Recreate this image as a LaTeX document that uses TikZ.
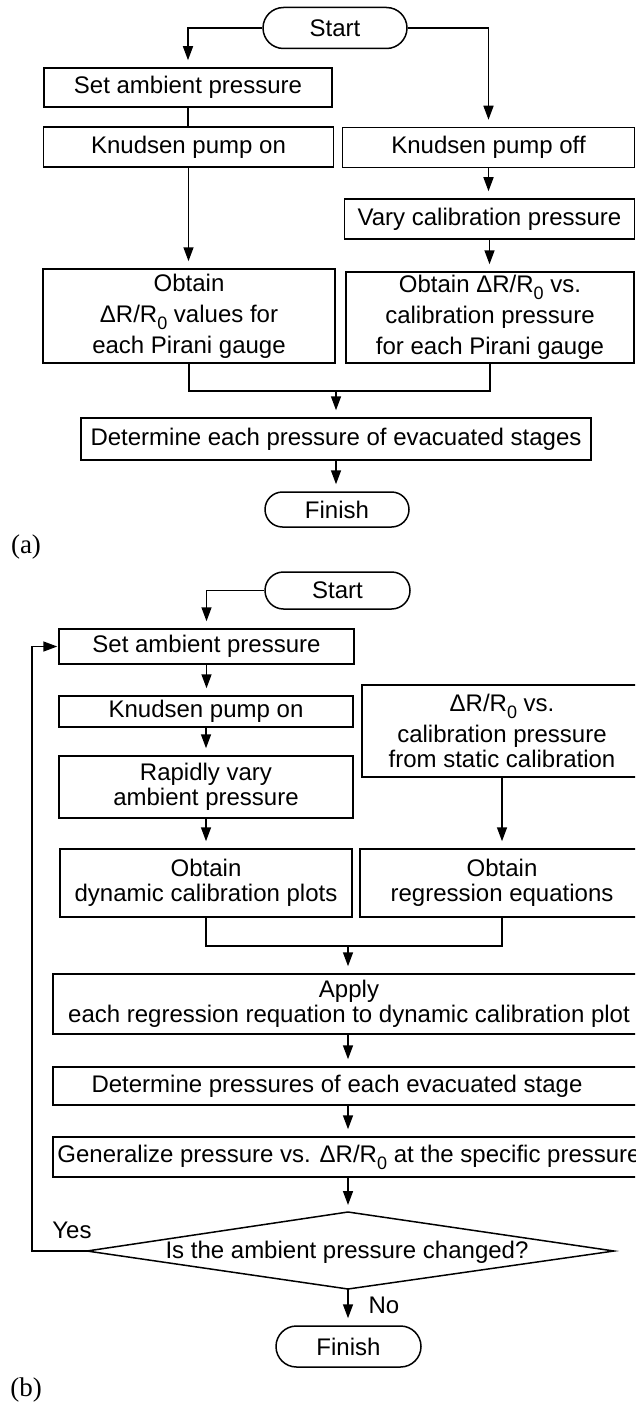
\documentclass[tikz,border=0pt]{standalone}
\usepackage{fontspec}
\setmainfont{Liberation Sans}
\newfontfamily\labserif{Liberation Serif}
\usetikzlibrary{arrows.meta,shapes.misc}
\newcommand{\dRR}{ΔR/R\raisebox{-7pt}{\fontsize{18}{18}\selectfont 0}}
\begin{document}
\begin{tikzpicture}[x=1pt,y=-1pt,line width=1.5pt,
  font=\fontsize{24}{29}\selectfont,
  box/.style={draw,rectangle,inner sep=0pt,align=center},
  terminal/.style={draw,rounded rectangle,inner sep=0pt},
  arr/.style={-{Triangle[length=14pt,width=10pt]},shorten >=7pt},
  spa/.style={font=\fontsize{24}{31}\selectfont},
  spb/.style={font=\fontsize{24}{25}\selectfont},
  lab/.style={font=\labserif\fontsize{27}{27}\selectfont},
  plain/.style={inner sep=0pt}]
\useasboundingbox (0,0) rectangle (635,1407);
\clip (0,0) rectangle (635,1407);

% ---------- (a) ----------
\node[terminal,minimum width=144pt,minimum height=41pt] (startA) at (335,28) {Start};
\node[box,minimum width=288pt,minimum height=39pt] (setA) at (188,87.5) {Set ambient pressure};
\node[box,minimum width=290pt,minimum height=40pt] (onA) at (188.5,147) {Knudsen pump on};
\node[box,minimum width=292pt,minimum height=40pt] (offA) at (488.5,147.5) {Knudsen pump off};
\node[box,minimum width=290pt,minimum height=40pt] (varyA) at (489.5,219) {Vary calibration pressure};
\node[box,spa,minimum width=292pt,minimum height=94pt] (obtL) at (189,316) {Obtain\\\dRR{} values for\\each Pirani gauge};
\node[box,spa,minimum width=288pt,minimum height=91pt] (obtR) at (490,317.5) {Obtain \dRR{} vs.\\calibration pressure\\for each Pirani gauge};
\node[box,minimum width=510pt,minimum height=42pt] (detA) at (336,439) {Determine each pressure of evacuated stages};
\node[terminal,minimum width=144pt,minimum height=35pt] (finA) at (337,509.5) {Finish};
\node[plain,lab] (labA) at (26,547) {(a)};

\draw[arr] (startA.west) -| (setA.north);
\draw[arr] (startA.east) -| (offA.north);
\draw (setA.south) -- (setA.south |- onA.north);
\draw[arr] (onA.south) -- (onA.south |- obtL.north);
\draw[arr] (offA.south) -- (offA.south |- varyA.north);
\draw[arr] (varyA.south) -- (varyA.south |- obtR.north);
\coordinate (mA) at (336,391);
\draw (obtL.south) |- (mA) -| (obtR.south);
\draw[arr] (mA) -- (detA.north);
\draw[arr] (detA.south) -- (detA.south |- finA.north);

% ---------- (b) ----------
\node[terminal,minimum width=145pt,minimum height=37pt] (startB) at (337.5,590.5) {Start};
\node[box,minimum width=295pt,minimum height=35pt] (setB) at (206.5,646.5) {Set ambient pressure};
\node[box,minimum width=294pt,minimum height=31pt] (onB) at (206,711.5) {Knudsen pump on};
\node[box,spb,minimum width=294pt,minimum height=62pt] (rapB) at (206,787) {Rapidly vary\\ambient pressure};
\node[box,spb,minimum width=280pt,minimum height=92pt] (dRB) at (502,731) {\dRR{} vs.\\[6pt]calibration pressure\\from static calibration};
\node[box,spb,minimum width=292pt,minimum height=68pt] (obtDB) at (206,883) {Obtain\\dynamic calibration plots};
\node[box,spb,minimum width=284pt,minimum height=68pt] (obtRB) at (502,883) {Obtain\\regression equations};
\coordinate (mB) at (348,946);
\node[box,spb,minimum width=592pt,minimum height=60pt] (applyB) at (349,1004) {Apply\\each regression requation to dynamic calibration plot};
\node[box,minimum width=592pt,minimum height=38pt] (detB) at (349,1086) {Determine pressures of each evacuated stage\hspace*{24pt}};
\node[box,minimum width=592pt,minimum height=40pt] (genB) at (349,1157) {Generalize pressure vs. \dRR{} at the specific pressure};
\coordinate (dT) at (348,1212);
\coordinate (dR) at (614,1251);
\coordinate (dB) at (348,1289);
\coordinate (dL) at (87,1251);
\draw (dT) -- (dR) -- (dB) -- (dL) -- cycle;
\node[plain] (qB) at (347,1252) {Is the ambient pressure changed?};
\node[terminal,minimum width=145pt,minimum height=41pt] (finB) at (348.5,1346.5) {Finish};
\node[plain] (yesB) at (72,1230) {Yes};
\node[plain] (noB) at (384,1305) {No};
\node[plain,lab] (labB) at (26,1390) {(b)};

\draw[arr] (startB.west) -| (setB.north);
\draw[arr] (setB.south) -- (setB.south |- onB.north);
\draw[arr] (onB.south) -- (onB.south |- rapB.north);
\draw[arr] (rapB.south) -- (rapB.south |- obtDB.north);
\draw[arr] (dRB.south) -- (dRB.south |- obtRB.north);
\draw (obtDB.south) |- (mB) -| (obtRB.south);
\draw[arr] (mB) -- (mB |- applyB.north);
\draw[arr] (mB |- applyB.south) -- (mB |- detB.north);
\draw[arr] (mB |- detB.south) -- (mB |- genB.north);
\draw[arr] (mB |- genB.south) -- (dT);
\draw[arr] (dB) -- (dB |- finB.north);
\coordinate (lpB) at (32,1251);
\draw[-{Triangle[length=14pt,width=10pt]},shorten >=1pt] (dL) -- (lpB) |- (setB.west);
\end{tikzpicture}
\end{document}
